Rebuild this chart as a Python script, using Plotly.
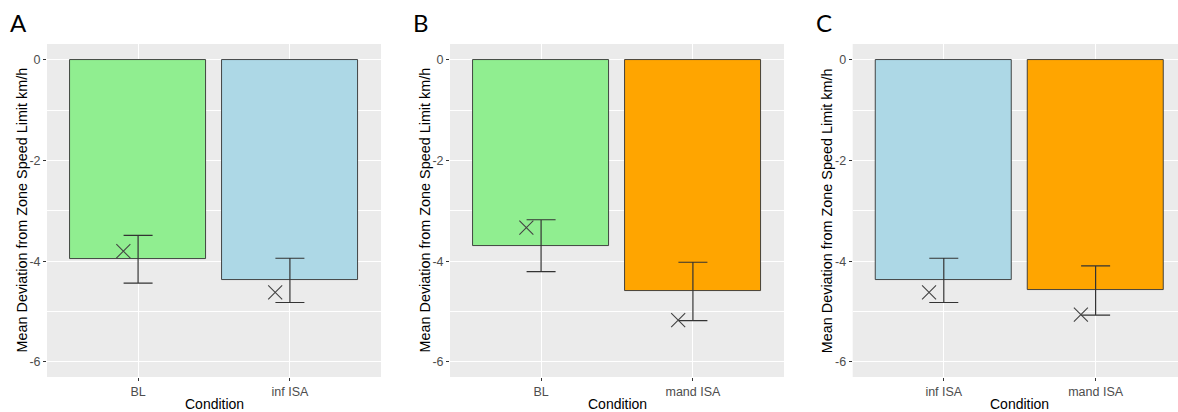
import plotly.graph_objects as go

# ---- data ----
panel_labels = ["A", "B", "C"]
conditions_a = ["BL", "inf ISA"]
conditions_b = ["BL", "mand ISA"]
conditions_c = ["inf ISA", "mand ISA"]
means_a = [-3.96, -4.38]
means_b = [-3.69, -4.60]
means_c = [-4.38, -4.58]
se_a = [0.475, 0.44]
se_b = [0.515, 0.58]
se_c = [0.44, 0.49]
xmark_a = [-3.80, -4.62]
xmark_b = [-3.33, -5.17]
xmark_c = [-4.62, -5.06]
y_tickvals = [0, -2, -4, -6]
y_ticktext = ["0", "-2", "-4", "-6"]

colors = {"BL": "#90EE90", "inf ISA": "#ADD8E6", "mand ISA": "#FFA500"}

W, H = 1178, 412
plot_top, plot_bot = 44, 377
panels_px = [(47, 381), (450, 784), (852.7, 1178)]
px_per_unit = 334 / 2.2

panels = [
    (conditions_a, means_a, se_a, xmark_a),
    (conditions_b, means_b, se_b, xmark_b),
    (conditions_c, means_c, se_c, xmark_c),
]

fig = go.Figure()
annotations = []
line_col = "#333333"
x_off = -0.097

for i, (conds, means, se, xm) in enumerate(panels):
    xa = "x" if i == 0 else f"x{i+1}"
    ya = "y" if i == 0 else f"y{i+1}"
    xpos = [k + 1 for k in range(len(conds))]
    fig.add_trace(go.Bar(
        x=xpos, y=means, width=0.9,
        marker=dict(color=[colors[c] for c in conds], line=dict(color=line_col, width=0.9)),
        error_y=dict(type="data", array=se, symmetric=True, color=line_col, thickness=1.2, width=14.5),
        xaxis=xa, yaxis=ya, showlegend=False, hoverinfo="skip",
    ))
    fig.add_trace(go.Scatter(
        x=[p + x_off for p in xpos], y=xm, mode="markers",
        marker=dict(symbol="x-thin-open", size=14, color="#444444",
                    line=dict(color="#444444", width=1.1)),
        xaxis=xa, yaxis=ya, showlegend=False, hoverinfo="skip",
    ))
    left, right = panels_px[i]
    xr_max = 0.4 + (right - left) / px_per_unit
    axis_common = dict(showline=False, zeroline=False, gridcolor="white",
                       ticks="outside", ticklen=3, tickcolor="#333333",
                       tickfont=dict(family="Liberation Sans", size=12.5, color="#4D4D4D"))
    fig.layout[("xaxis" if i == 0 else f"xaxis{i+1}")] = go.layout.XAxis(
        domain=[left / W, min(right / W, 1.0)], range=[0.4, xr_max],
        tickvals=xpos, ticktext=conds, gridwidth=1.1,
        anchor=ya, **axis_common)
    fig.layout[("yaxis" if i == 0 else f"yaxis{i+1}")] = go.layout.YAxis(
        domain=[1 - plot_bot / H, 1 - plot_top / H], range=[-6.3, 0.317],
        tickvals=y_tickvals, ticktext=y_ticktext, gridwidth=1.1,
        minor=dict(dtick=1, tick0=0, showgrid=True, gridcolor="white", gridwidth=0.5, ticks=""),
        anchor=xa, **axis_common)
    # titles
    cx = (left + (left + 334)) / 2
    annotations.append(dict(text="Condition", x=cx / W, y=1 - 404 / H, xref="paper", yref="paper",
                            showarrow=False, font=dict(family="Liberation Sans", size=14, color="black"),
                            xanchor="center", yanchor="middle"))
    annotations.append(dict(text="Mean Deviation from Zone Speed Limit km/h",
                            x=(left - 26) / W, y=1 - ((plot_top + plot_bot) / 2) / H,
                            xref="paper", yref="paper", textangle=-90, showarrow=False,
                            font=dict(family="Liberation Sans", size=14.4, color="black"),
                            xanchor="center", yanchor="middle"))
    annotations.append(dict(text=panel_labels[i], x=(left - 39) / W, y=1 - 23 / H,
                            xref="paper", yref="paper", showarrow=False,
                            font=dict(family="Lato", size=24, color="black"),
                            xanchor="left", yanchor="middle"))

fig.update_layout(
    width=W, height=H, margin=dict(l=0, r=0, t=0, b=0),
    paper_bgcolor="white", plot_bgcolor="#EBEBEB",
    annotations=annotations, bargap=0,
)

fig.write_html("out.html", config={"displayModeBar": False},
               post_script="document.body.style.margin='0';document.body.style.overflow='hidden';")
